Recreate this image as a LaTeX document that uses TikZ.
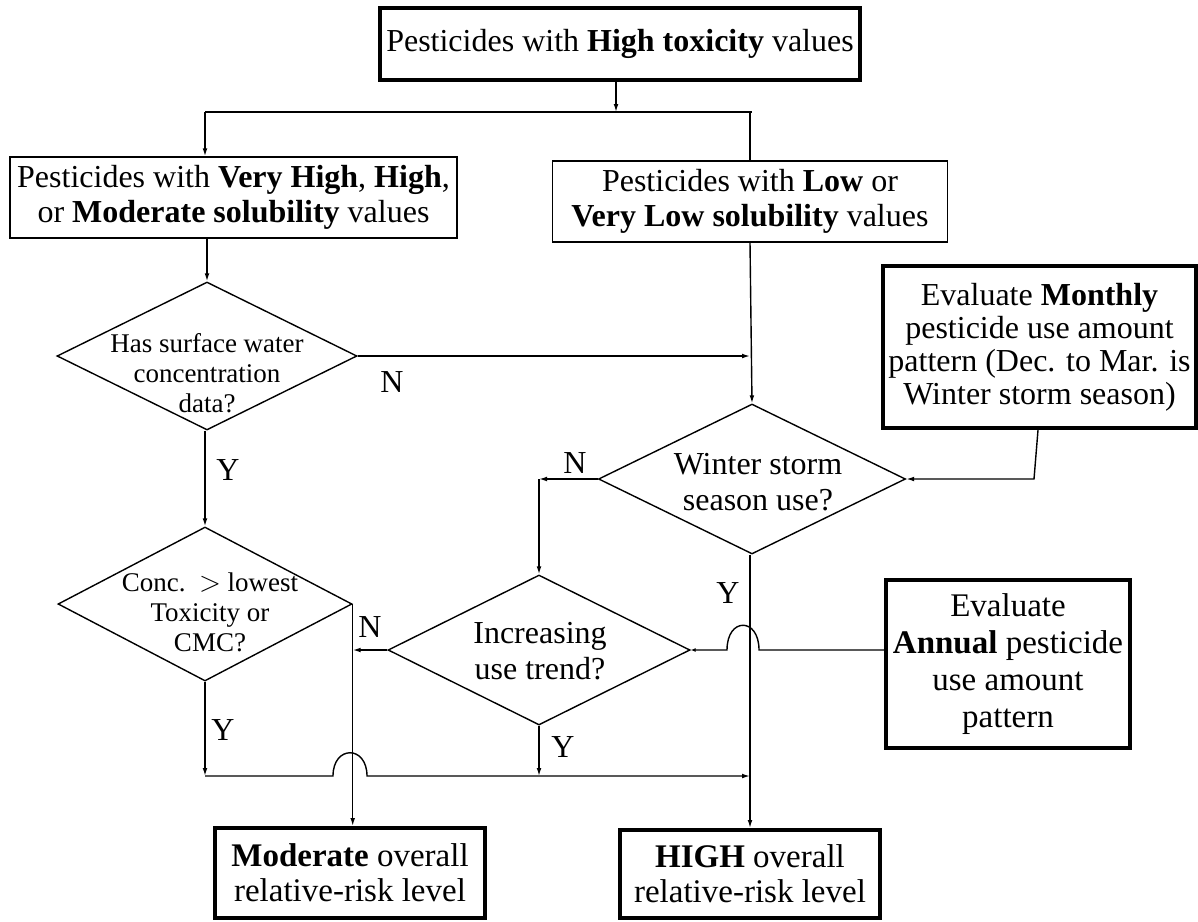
\documentclass[tikz,border=0pt]{standalone}
\usepackage{fontspec}
\setmainfont{Liberation Serif}
\usepackage{tikz}
\usetikzlibrary{shapes.geometric,arrows.meta}

\begin{document}
\begin{tikzpicture}[x=0.5pt,y=-0.5pt]
	\tikzstyle{box}=[rectangle,draw=black,line width=0.7pt,align=center,inner sep=0pt,font=\fontsize{16}{17.5}\selectfont]
	\tikzstyle{thickbox}=[box,line width=2pt]
	\tikzstyle{decision}=[diamond,draw=black,line width=0.7pt,inner sep=0pt]
	\tikzstyle{dtext}=[align=center,inner sep=0pt,font=\fontsize{16}{18}\selectfont]
	\tikzstyle{dsmall}=[align=center,inner sep=0pt,font=\fontsize{13.5}{15}\selectfont]
	\tikzstyle{yn}=[inner sep=0pt,font=\fontsize{16}{17.5}\selectfont]
	\tikzstyle{arr}=[line width=0.7pt,-{Latex[length=4pt,width=2.4pt]}]
	\tikzstyle{line}=[line width=0.7pt]
	\useasboundingbox (0,0) rectangle (1198,921);
	% boxes
	\node[thickbox,minimum width=240pt,minimum height=36pt](top) at (620,44) {Pesticides with \textbf{High toxicity} values};
	\node[box,minimum width=223.5pt,minimum height=40.5pt](lbox) at (233.5,197.5) {Pesticides with \textbf{Very High}, \textbf{High},\\or \textbf{Moderate solubility} values};
	\node[box,minimum width=197.5pt,minimum height=40.5pt](rbox) at (750,201.5) {Pesticides with \textbf{Low} or\\\textbf{Very Low solubility} values};
	\node[thickbox,minimum width=156.5pt,minimum height=81pt,font=\fontsize{16}{16.5}\selectfont](monthly) at (1039.5,347) {Evaluate \textbf{Monthly}\\pesticide use amount\\pattern (Dec. to Mar. is\\Winter storm season)};
	\node[thickbox,minimum width=122pt,minimum height=84pt,font=\fontsize{16.5}{18.5}\selectfont](annual) at (1008,664) {Evaluate\\\textbf{Annual} pesticide\\use amount\\pattern};
	\node[thickbox,minimum width=135pt,minimum height=45pt,font=\fontsize{16.5}{17.5}\selectfont](moderate) at (350,873) {\textbf{Moderate} overall\\relative-risk level};
	\node[thickbox,minimum width=130pt,minimum height=44pt,font=\fontsize{16.5}{17.5}\selectfont](high) at (750,874) {\textbf{HIGH} overall\\relative-risk level};
	% decisions
	\node[decision,minimum width=150pt,minimum height=74pt](d1) at (207,356) {};
	\node[dsmall](d1t) at (207,373) {Has surface water\\concentration\\data?};
	\node[decision,minimum width=147pt,minimum height=77pt](d2) at (205,604) {};
	\node[dsmall](d2t) at (210,612) {Conc.\ \ $>$ lowest\\Toxicity or\\CMC?};
	\node[decision,minimum width=153.5pt,minimum height=75pt](winter) at (752,479) {};
	\node[dtext](wintert) at (758,482) {Winter storm\\season use?};
	\node[decision,minimum width=151pt,minimum height=75pt](incr) at (539,650) {};
	\node[dtext](incrt) at (540,651) {Increasing\\use trend?};
	% labels
	\node[yn](n1) at (392,382) {N};
	\node[yn](y1) at (228,470) {Y};
	\node[yn](n2) at (370,627) {N};
	\node[yn](y2) at (223,730) {Y};
	\node[yn](n3) at (575,463) {N};
	\node[yn](y3) at (728,593) {Y};
	\node[yn](y4) at (563,747) {Y};
	% corner points
	\coordinate (split) at (616,112);
	\coordinate (hl) at (205,112);
	\coordinate (hr) at (752,112);
	\coordinate (wcorner) at (539,479);
	\coordinate (ycorner) at (205,776);
	\coordinate (mbend) at (1034,479);
	% connectors
	\draw[arr] (top.south -| split) -- (split);
	\draw[line] (hl) -- (hr);
	\draw[arr] (hl) -- (hl |- lbox.north);
	\draw[line] (750,112) -- (rbox.north);
	\draw[arr] (d1.north |- lbox.south) -- (d1.north);
	\draw[arr] (d1.east) -- (d1.east -| rbox.south);
	\draw[arr] (rbox.south) -- (winter.north);
	\draw[arr] (d1.south -| d2.north) -- (d2.north);
	\draw[arr] (d2.south) -- (ycorner);
	\draw[arr] (ycorner) -- (333,776) .. controls (333,745) and (367,745) .. (367,776) -- (high.north |- ycorner);
	\draw[arr] (incr.south) -- (incr.south |- ycorner);
	\draw[arr] (d2.east) -- (d2.east |- moderate.north);
	\draw[arr] (incr.west) -- (incr.west -| d2.east);
	\draw[arr] (winter.west) -- (wcorner);
	\draw[arr] (wcorner) -- (incr.north);
	\draw[arr] (winter.south -| high.north) -- (high.north);
	\draw[line,-{Latex[length=2.5pt,width=2pt]}] (annual.west |- incr.east) -- (759,650) .. controls (759,617) and (727,617) .. (727,650) -- (incr.east);
	\draw[arr] (monthly.south -| 1038,0) -- (mbend) -- (winter.east);
\end{tikzpicture}
\end{document}
